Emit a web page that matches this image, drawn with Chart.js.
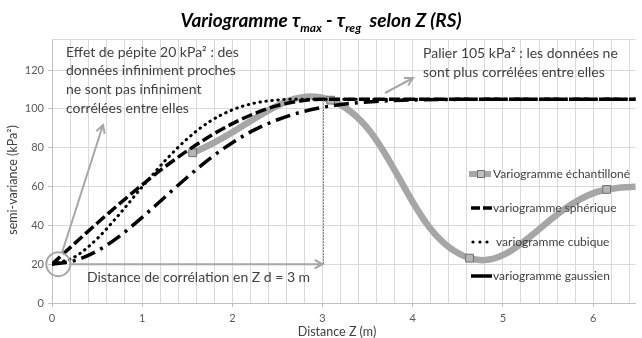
<!DOCTYPE html>
<html>
<head>
<meta charset="utf-8">
<script src="https://cdn.jsdelivr.net/npm/chart.js@4.4.1/dist/chart.umd.min.js"></script>
<style>
  html, body { margin: 0; padding: 0; background: #fff; }
</style>
</head>
<body>
<canvas id="vario" width="642" height="338"></canvas>
<script>
// distances (m) used for the three model curves
const modelDist = [0, 0.25, 0.5, 0.75, 1, 1.25, 1.5, 1.75, 2, 2.25, 2.5, 2.75, 3, 3.25, 3.5, 4, 4.5, 5, 5.5, 6, 6.5];
const spherical = [20, 30.6, 41.1, 51.2, 60.9, 70.1, 78.4, 85.9, 92.4, 97.7, 101.7, 104.1, 105, 105, 105, 105, 105, 105, 105, 105, 105];
const cubic     = [20, 23.7, 33.1, 45.9, 59.8, 73.1, 84.6, 93.5, 99.5, 103.0, 104.6, 105, 105, 105, 105, 105, 105, 105, 105, 105, 105];
const gaussian  = [20, 21.8, 26.8, 34.5, 44.1, 54.5, 64.8, 74.4, 82.6, 89.3, 94.4, 98.2, 100.8, 102.5, 103.6, 104.6, 104.9, 105, 105, 105, 105];

// experimental variogram (sampled lags)
const sampleDist = [1.56, 3.09, 4.63, 6.15, 7.69];
const sampleVar  = [77.4, 104.5, 23.1, 58.5, 50];

const seriesNames = ['Variogramme échantilloné', 'variogramme sphérique', 'variogramme cubique', 'variogramme gaussien'];
const xTickLabels = ['0', '1', '2', '3', '4', '5', '6'];
const yTickStep = 20;

const pts = (xs, ys) => xs.map((x, i) => ({ x: x, y: ys[i] }));

Chart.defaults.font.family = 'Lato, "Open Sans", sans-serif';
Chart.defaults.color = '#595959';

const GREY = '#a6a6a6';
const TEXT = '#404040';

function arrow(ctx, x1, y1, x2, y2) {
    const a = Math.atan2(y2 - y1, x2 - x1);
    const h = 9;
    ctx.beginPath();
    ctx.moveTo(x1, y1);
    ctx.lineTo(x2, y2);
    ctx.moveTo(x2 - h * Math.cos(a - 0.5), y2 - h * Math.sin(a - 0.5));
    ctx.lineTo(x2, y2);
    ctx.lineTo(x2 - h * Math.cos(a + 0.5), y2 - h * Math.sin(a + 0.5));
    ctx.stroke();
}

const decorations = {
    id: 'decorations',
    afterDatasetsDraw(chart) {
        const ctx = chart.ctx;
        const sx = chart.scales.x, sy = chart.scales.y;
        const px = v => sx.getPixelForValue(v);
        const py = v => sy.getPixelForValue(v);
        ctx.save();

        // pepite circle + arrows
        const cx = px(0.07), cy = py(20), r = 12;
        ctx.strokeStyle = GREY;
        ctx.lineWidth = 2;
        ctx.beginPath();
        ctx.arc(cx, cy, r, 0, Math.PI * 2);
        ctx.stroke();
        arrow(ctx, cx + r, cy, px(3), cy);
        arrow(ctx, cx + 0.305 * r, cy - 0.952 * r, 103, 125);
        arrow(ctx, 385, 93, 413, 78);

        // range marker at d = 3 m
        ctx.strokeStyle = '#7f7f7f';
        ctx.lineWidth = 1;
        ctx.setLineDash([2, 1]);
        ctx.beginPath();
        ctx.moveTo(Math.round(px(3)) + 0.5, py(20));
        ctx.lineTo(Math.round(px(3)) + 0.5, py(105));
        ctx.stroke();
        ctx.setLineDash([]);

        // annotation texts
        ctx.fillStyle = TEXT;
        ctx.font = '14px Lato';
        ctx.textBaseline = 'middle';
        ctx.textAlign = 'left';
        ['Effet de pépite 20 kPa² : des', 'données infiniment proches',
         'ne sont pas infiniment', 'corrélées entre elles']
            .forEach((t, i) => ctx.fillText(t, 66, 52 + i * 18.7));
        ['Palier 105 kPa² : les données ne', 'sont plus corrélées entre elles']
            .forEach((t, i) => ctx.fillText(t, 423, 53 + i * 19));
        ctx.fillText('Distance de corrélation en Z d = 3 m', 87, 277);

        // legend inside plot
        const ly = [174, 208, 242, 276];
        ctx.font = '12px Lato';
        chart.data.datasets.forEach((ds, i) => {
            const y = ly[i];
            ctx.lineCap = 'butt';
            if (i === 0) {
                ctx.strokeStyle = GREY; ctx.lineWidth = 6;
                ctx.beginPath(); ctx.moveTo(469, y); ctx.lineTo(491, y); ctx.stroke();
                ctx.fillStyle = '#bfbfbf'; ctx.strokeStyle = '#6f6f6f'; ctx.lineWidth = 1;
                ctx.fillRect(477, y - 4, 8, 8); ctx.strokeRect(477.5, y - 3.5, 7, 7);
            } else if (i === 1) {
                ctx.strokeStyle = '#000'; ctx.lineWidth = 3.5;
                ctx.beginPath(); ctx.moveTo(471, y); ctx.lineTo(480, y);
                ctx.moveTo(483, y); ctx.lineTo(492, y); ctx.stroke();
            } else if (i === 2) {
                ctx.fillStyle = '#000';
                [473, 480, 487].forEach(x => { ctx.beginPath(); ctx.arc(x, y, 1.6, 0, Math.PI * 2); ctx.fill(); });
            } else {
                ctx.strokeStyle = '#000'; ctx.lineWidth = 3.5;
                ctx.beginPath(); ctx.moveTo(471, y); ctx.lineTo(492, y); ctx.stroke();
            }
            ctx.fillStyle = TEXT;
            ctx.fillText(ds.label, i === 2 ? 496 : 493, y);
        });

        // axis titles
        ctx.font = '12.5px Lato';
        ctx.textAlign = 'center';
        ctx.fillText('Distance Z (m)', 337, 332);
        ctx.save();
        ctx.translate(13, 180);
        ctx.rotate(-Math.PI / 2);
        ctx.fillText('semi-variance (kPa²)', 0, 0);
        ctx.restore();

        // chart title with subscripts
        const parts = [['Variogramme τ', 0], ['max', 1], [' - τ', 0], ['reg', 1], ['  selon Z (RS)', 0]];
        const big = 'italic bold 19px Lato', small = 'italic bold 12px Lato';
        let w = 0;
        parts.forEach(p => { ctx.font = p[1] ? small : big; w += ctx.measureText(p[0]).width; });
        let x = 321 - w / 2;
        ctx.textAlign = 'left';
        ctx.textBaseline = 'alphabetic';
        ctx.fillStyle = '#000';
        parts.forEach(p => {
            ctx.font = p[1] ? small : big;
            ctx.fillText(p[0], x, p[1] ? 32 : 27);
            x += ctx.measureText(p[0]).width;
        });

        // plot top border
        ctx.strokeStyle = '#d9d9d9';
        ctx.lineWidth = 1;
        ctx.beginPath();
        ctx.moveTo(chart.chartArea.left, chart.chartArea.top + 0.5);
        ctx.lineTo(chart.chartArea.right, chart.chartArea.top + 0.5);
        ctx.stroke();
        ctx.restore();
    }
};

const isInt = v => Math.abs(v - Math.round(v)) < 1e-6;

new Chart(document.getElementById('vario'), {
    type: 'line',
    data: {
        datasets: [{
            label: seriesNames[0],
            data: pts(sampleDist, sampleVar),
            borderColor: GREY,
            borderWidth: 6.5,
            tension: 0.4,
            pointStyle: 'rect',
            pointRadius: 5.5,
            pointBackgroundColor: '#b5b5b5',
            pointBorderColor: '#6f6f6f',
            pointBorderWidth: 1,
            order: 4
        }, {
            label: seriesNames[1],
            data: pts(modelDist, spherical),
            borderColor: '#000',
            borderWidth: 3.5,
            borderDash: [11, 4],
            cubicInterpolationMode: 'monotone',
            pointRadius: 0,
            order: 2
        }, {
            label: seriesNames[2],
            data: pts(modelDist, cubic),
            borderColor: '#000',
            borderWidth: 3,
            borderDash: [0.5, 5.5],
            borderCapStyle: 'round',
            cubicInterpolationMode: 'monotone',
            pointRadius: 0,
            order: 1
        }, {
            label: seriesNames[3],
            data: pts(modelDist, gaussian),
            borderColor: '#000',
            borderWidth: 3.5,
            borderDash: [15, 6, 3, 6],
            cubicInterpolationMode: 'monotone',
            pointRadius: 0,
            order: 3
        }]
    },
    options: {
        responsive: false,
        animation: false,
        events: [],
        layout: { padding: { top: 39, left: 0, right: 0, bottom: 0 } },
        scales: {
            x: {
                type: 'linear',
                min: 0,
                max: 6.47,
                afterFit: s => { s.height = 35; },
                grid: {
                    color: '#d9d9d9',
                    tickLength: 4,
                    tickColor: c => isInt(c.tick.value) ? '#bfbfbf' : 'rgba(0,0,0,0)'
                },
                border: { color: '#bfbfbf' },
                ticks: {
                    stepSize: 0.2,
                    includeBounds: false,
                    maxRotation: 0,
                    autoSkip: false,
                    padding: 5,
                    font: { size: 11 },
                    callback: v => isInt(v) ? (xTickLabels[Math.round(v)] ?? '') : ''
                }
            },
            y: {
                min: 0,
                max: 136,
                afterFit: s => { s.width = 52; },
                grid: { color: '#d9d9d9', tickLength: 4, tickColor: '#bfbfbf' },
                border: { color: '#bfbfbf' },
                ticks: {
                    stepSize: yTickStep,
                    includeBounds: false,
                    padding: 4,
                    font: { size: 11 }
                }
            }
        },
        plugins: {
            legend: { display: false },
            title: { display: false },
            tooltip: { enabled: false }
        }
    },
    plugins: [decorations]
});
</script>
</body>
</html>
